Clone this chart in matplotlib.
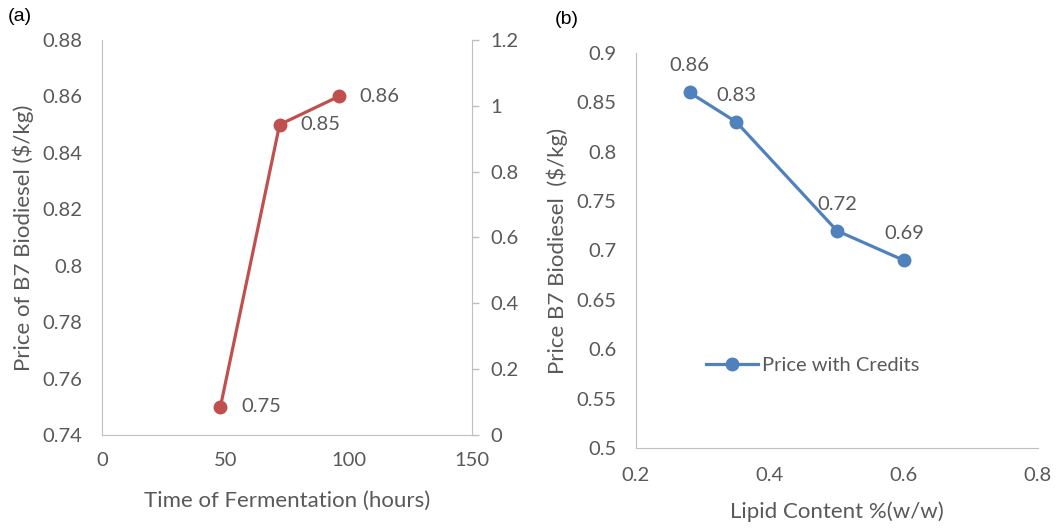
import matplotlib.pyplot as plt

plt.rcParams['font.family'] = ['Lato', 'DejaVu Sans']

# panel (a): fermentation time vs price
time_h = [48, 72, 96]
price_a = [0.75, 0.85, 0.86]
labels_a = ['0.75', '0.85', '0.86']

# panel (b): lipid content vs price
lipid = [0.28, 0.35, 0.50, 0.60]
price_b = [0.86, 0.83, 0.72, 0.69]
labels_b = ['0.86', '0.83', '0.72', '0.69']

red = '#C0504D'
blue = '#4F81BD'
txt = '#595959'
grid = '#BFBFBF'
fs = 14.5      # tick / data labels
fl = 16        # axis titles

fig = plt.figure(figsize=(10.64, 5.31), dpi=100)

# ---- (a)
ax1 = fig.add_axes([0.0959, 0.1808, 0.3477, 0.7439])
ax1.plot(time_h, price_a, color=red, lw=2.3, marker='o', ms=9)
for x, y, s in zip(time_h, price_a, labels_a):
    ax1.annotate(s, (x, y), xytext=(15, 0), textcoords='offset points',
                 ha='left', va='center', fontsize=fs, color=txt)
ax1.set_xlim(0, 150)
ax1.set_ylim(0.74, 0.88)
ax1.set_xticks([0, 50, 100, 150])
ax1.set_yticks([0.74, 0.76, 0.78, 0.80, 0.82, 0.84, 0.86, 0.88])
ax1.set_yticklabels(['0.74', '0.76', '0.78', '0.8', '0.82', '0.84', '0.86', '0.88'])
ax1.set_xlabel('Time of Fermentation (hours)', fontsize=fl, color=txt, labelpad=16)
ax1.set_ylabel('Price of B7 Biodiesel ($/kg)', fontsize=fl, color=txt, labelpad=6)

ax1b = ax1.twinx()
ax1b.set_ylim(0, 1.2)
ax1b.set_yticks([0, 0.2, 0.4, 0.6, 0.8, 1.0, 1.2])
ax1b.set_yticklabels(['0', '0.2', '0.4', '0.6', '0.8', '1', '1.2'])
ax1b.tick_params(axis='y', colors=grid, labelcolor=txt, labelsize=fs,
                 length=5, width=1, pad=8)

for a in (ax1, ax1b):
    a.spines['top'].set_visible(False)
    for sp in ('left', 'right', 'bottom'):
        a.spines[sp].set_color(grid)
ax1b.spines['left'].set_visible(False)
ax1b.spines['bottom'].set_visible(False)
ax1.spines['right'].set_visible(False)
ax1.tick_params(axis='both', length=0, labelsize=fs, labelcolor=txt)
ax1.tick_params(axis='y', pad=14)
ax1.tick_params(axis='x', pad=12)

fig.text(0.007, 0.96, '(a)', fontsize=14, color='black', family=['Liberation Sans', 'DejaVu Sans'])

# ---- (b)
ax2 = fig.add_axes([0.5977, 0.1563, 0.3778, 0.7439])
ax2.plot(lipid, price_b, color=blue, lw=2.3, marker='o', ms=9, label='Price with Credits')
for x, y, s in zip(lipid, price_b, labels_b):
    ax2.annotate(s, (x, y), xytext=(0, 13), textcoords='offset points',
                 ha='center', va='bottom', fontsize=fs, color=txt)
ax2.set_xlim(0.2, 0.8)
ax2.set_ylim(0.5, 0.9)
ax2.set_xticks([0.2, 0.4, 0.6, 0.8])
ax2.set_xticklabels(['0.2', '0.4', '0.6', '0.8'])
ax2.set_yticks([0.5, 0.55, 0.6, 0.65, 0.7, 0.75, 0.8, 0.85, 0.9])
ax2.set_yticklabels(['0.5', '0.55', '0.6', '0.65', '0.7', '0.75', '0.8', '0.85', '0.9'])
ax2.set_xlabel('Lipid Content %(w/w)', fontsize=fl, color=txt, labelpad=12)
ax2.set_ylabel('Price B7 Biodiesel  ($/kg)', fontsize=fl, color=txt, labelpad=6)
ax2.spines['top'].set_visible(False)
ax2.spines['right'].set_visible(False)
ax2.spines['left'].set_color(grid)
ax2.spines['bottom'].set_color(grid)
ax2.tick_params(axis='both', length=0, labelsize=fs, labelcolor=txt)
ax2.tick_params(axis='y', pad=14)
ax2.tick_params(axis='x', pad=14)
ax2.legend(loc='center', bbox_to_anchor=(0.44, 0.21), frameon=False,
           fontsize=fs, labelcolor=txt, handlelength=2.6, handletextpad=0.2)

fig.text(0.521, 0.955, '(b)', fontsize=14, color='black', family=['Liberation Sans', 'DejaVu Sans'])

fig.savefig('out.png', dpi=100)
